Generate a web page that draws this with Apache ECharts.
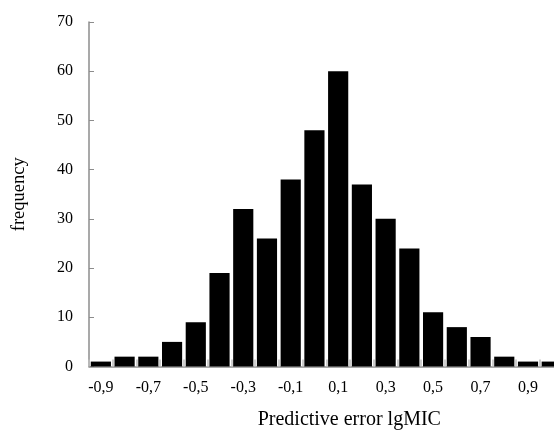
<!DOCTYPE html>
<html>
<head>
<meta charset="utf-8">
<script src="https://cdn.jsdelivr.net/npm/echarts@6/dist/echarts.min.js"></script>
<style>
html,body{margin:0;padding:0;background:#fff;}
#chart{width:554px;height:439px;}
</style>
</head>
<body>
<div id="chart"></div>
<script>
var categories = ['-0,9','-0,8','-0,7','-0,6','-0,5','-0,4','-0,3','-0,2','-0,1','0','0,1','0,2','0,3','0,4','0,5','0,6','0,7','0,8','0,9','1'];
var frequency = [1, 2, 2, 5, 9, 19, 32, 26, 38, 48, 60, 37, 30, 24, 11, 8, 6, 2, 1, 1];
var yTicks = [0, 10, 20, 30, 40, 50, 60, 70];
var xTitle = 'Predictive error lgMIC';
var yTitle = 'frequency';

var chart = echarts.init(document.getElementById('chart'), null, {renderer: 'canvas'});
var font = '"Liberation Serif", "Times New Roman", serif';
chart.setOption({
  animation: false,
  backgroundColor: '#ffffff',
  grid: {left: 89, top: 22, width: 474.6, height: 344.5, containLabel: false, outerBoundsMode: 'none'},
  xAxis: {
    type: 'category',
    data: categories,
    boundaryGap: true,
    axisLine: {lineStyle: {color: '#8c8c8c', width: 1.5}},
    axisTick: {show: true, inside: true, length: 7, alignWithLabel: false, interval: 0, lineStyle: {color: '#bdbdbd', width: 1.5}},
    axisLabel: {interval: 1, color: '#000', fontFamily: font, fontSize: 16, margin: 13},
    name: xTitle,
    nameLocation: 'middle',
    nameGap: 43,
    nameTextStyle: {color: '#000', fontFamily: font, fontSize: 20, padding: [0, 0, 0, 46]},
    splitLine: {show: false}
  },
  yAxis: {
    type: 'value',
    min: yTicks[0],
    max: yTicks[yTicks.length - 1],
    interval: 10,
    axisLine: {show: true, lineStyle: {color: '#8c8c8c', width: 1.5}},
    axisTick: {show: true, inside: true, length: 5, lineStyle: {color: '#8c8c8c', width: 1}},
    axisLabel: {color: '#000', fontFamily: font, fontSize: 16, margin: 16},
    splitLine: {show: false},
    name: yTitle,
    nameLocation: 'middle',
    nameGap: 60,
    nameRotate: 90,
    nameTextStyle: {color: '#000', fontFamily: font, fontSize: 18.5}
  },
  series: [{
    type: 'bar',
    data: frequency,
    barCategoryGap: '15%',
    itemStyle: {color: '#000000'}
  }]
});
</script>
</body>
</html>
